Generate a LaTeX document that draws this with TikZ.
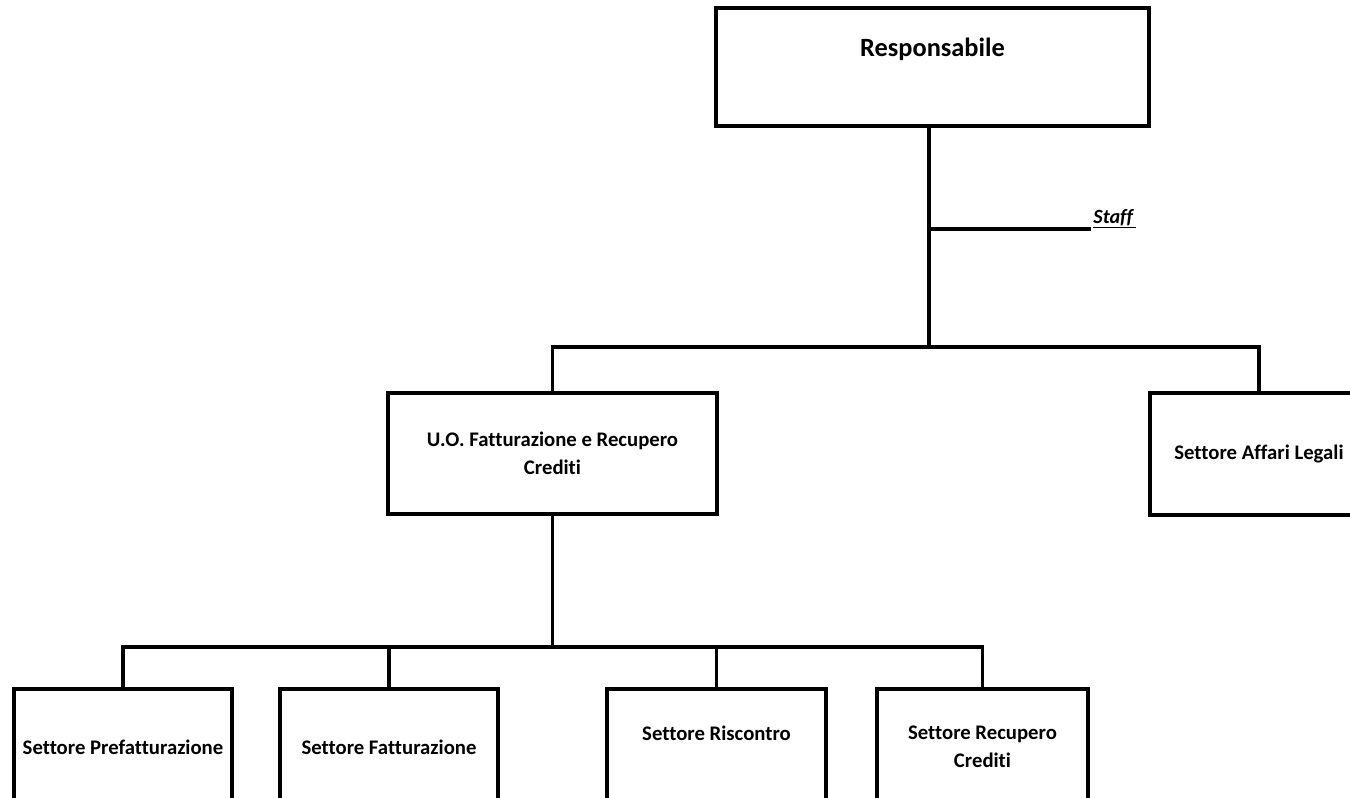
\documentclass[tikz,border=0pt]{standalone}
\usepackage{fontspec}
\setmainfont[Ligatures=CommonOff]{Carlito}
\tikzset{
  unit/.style={draw, line width=1.8pt, align=center, inner sep=2pt,
    font=\fontsize{11.8}{15.9}\selectfont\bfseries},
  link/.style={line width=1.8pt}
}
\begin{document}
\begin{tikzpicture}[x=0.02cm,y=-0.02cm]
        \useasboundingbox (0,0) rectangle (1350,798);
        \clip (0,0) rectangle (1350,798);
        % Boxes
        \node[unit, minimum width=433*0.02cm, minimum height=118*0.02cm,
          label={[anchor=center, yshift=-0.86cm, font=\fontsize{15}{18}\selectfont\bfseries]north:Responsabile}]
          (resp) at (932.5,67) {};
        \node[unit, minimum width=329*0.02cm, minimum height=121*0.02cm] (uo) at (552.5,453.5)
          {U.O. Fatturazione e Recupero\\Crediti};
        \node[unit, minimum width=218*0.02cm, minimum height=122*0.02cm] (legal) at (1259,454)
          {Settore Affari Legali};
        \node[unit, minimum width=218*0.02cm, minimum height=116*0.02cm] (pref) at (123,747)
          {Settore Prefatturazione};
        \node[unit, minimum width=218*0.02cm, minimum height=116*0.02cm] (fatt) at (389,747)
          {Settore Fatturazione};
        \node[unit, minimum width=219*0.02cm, minimum height=116*0.02cm] (risc) at (716.5,747)
          {Settore Riscontro\\\mbox{}};
        \node[unit, minimum width=211*0.02cm, minimum height=116*0.02cm] (recu) at (982.5,747)
          {Settore Recupero\\Crediti};

        % Junctions
        \coordinate (top) at (929,347);
        \coordinate (staff) at (1091,229);
        \coordinate (bot) at (552.5,647);

        % Lines
        \draw[link] (resp.south -| top) -- (top);
        \draw[link] (uo.north) |- (top) -| (legal.north);
        \draw[link] (top |- staff) -- (staff);
        \node[anchor=base west, inner sep=0pt, font=\fontsize{11.5}{13}\selectfont\bfseries\itshape]
          (stafflbl) at (1093,223) {\underline{Staff\,}};
        \draw[link] (uo.south) -- (bot);
        \draw[link] (pref.north) |- (bot) -| (recu.north);
        \foreach \b in {fatt,risc}
        {
          \draw[link] (\b.north) -- (\b.north |- bot);
        }
    \end{tikzpicture}
\end{document}
